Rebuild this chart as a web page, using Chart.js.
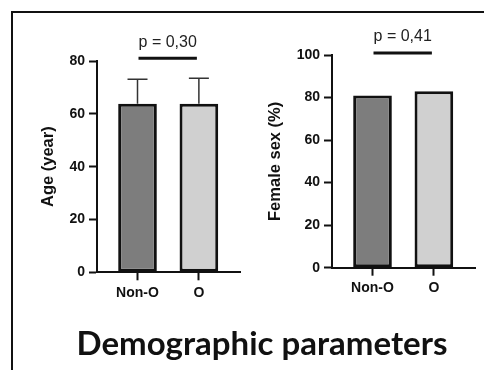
<!DOCTYPE html>
<html>
<head>
<meta charset="utf-8">
<script src="https://cdn.jsdelivr.net/npm/chart.js@4.4.1/dist/chart.umd.min.js"></script>
<style>
  html, body { margin: 0; padding: 0; background: #fff; }
  #page { position: relative; width: 484px; height: 370px; overflow: hidden; background: #fff; }
  #frame { position: absolute; left: 11px; top: 11px; width: 500px; height: 400px;
           border-left: 2px solid #111; border-top: 2px solid #111; }
  canvas { position: absolute; left: 0; top: 0; }
  #title { position: absolute; left: 0; width: 524px; top: 322px; text-align: center;
           font-family: 'Lato', sans-serif; font-weight: 700; font-size: 33px; line-height: 40px; color: #111; }
</style>
</head>
<body>
<div id="page">
  <div id="frame"></div>
  <canvas id="ageChart" width="484" height="370"></canvas>
  <canvas id="sexChart" width="484" height="370"></canvas>
  <div id="title">Demographic parameters</div>
</div>
<script>
// Groups compared in both panels
const categories = ['Non-O', 'O'];

// Age panel: mean and standard deviation (years)
const ageMean = [63.8, 63.8];
const ageSD = [9.3, 9.7];
const ageTicks = [0, 20, 40, 60, 80];
const agePValue = 'p = 0,30';

// Female sex panel: percentage of women
const femalePct = [81.0, 82.9];
const femaleTicks = [0, 20, 40, 60, 80, 100];
const femalePValue = 'p = 0,41';

const barColors = ['#7d7d7d', '#d0d0d0'];
const ink = '#111';
const tickFont = { family: "'Liberation Sans', Arial, sans-serif", size: 14, weight: 'bold' };
const titleFont = { family: "'Liberation Sans', Arial, sans-serif", size: 16.5, weight: 'bold' };

// Error bars (upward SD) and the significance bracket with its p value
const annotate = {
  id: 'annotate',
  afterDatasetsDraw(chart, args, opts) {
    const { ctx, scales: { x, y } } = chart;
    ctx.save();
    if (opts.sd) {
      ctx.strokeStyle = '#333';
      ctx.lineWidth = 1.5;
      opts.sd.forEach((sd, i) => {
        const cx = x.getPixelForValue(i);
        const y0 = y.getPixelForValue(opts.means[i]);
        const y1 = y.getPixelForValue(opts.means[i] + sd);
        ctx.beginPath();
        ctx.moveTo(cx, y0);
        ctx.lineTo(cx, y1);
        ctx.moveTo(cx - 10, y1);
        ctx.lineTo(cx + 10, y1);
        ctx.stroke();
      });
    }
    const xl = x.getPixelForValue(0) + 1;
    const xr = x.getPixelForValue(1) - 2;
    const yb = y.getPixelForValue(opts.bracketAt);
    ctx.strokeStyle = ink;
    ctx.lineWidth = 3;
    ctx.beginPath();
    ctx.moveTo(xl, yb);
    ctx.lineTo(xr, yb);
    ctx.stroke();
    ctx.fillStyle = '#222';
    ctx.font = "16px 'Liberation Sans', Arial, sans-serif";
    ctx.textAlign = 'center';
    ctx.textBaseline = 'middle';
    ctx.fillText(opts.label, (xl + xr) / 2, yb - 16);
    ctx.restore();
  }
};

function makeChart(id, values, ticks, yTitle, padding, yWidth, titlePad, annot) {
  return new Chart(document.getElementById(id), {
    type: 'bar',
    data: {
      datasets: [{
        data: categories.map((c, i) => ({ x: i, y: values[i] })),
        backgroundColor: barColors,
        borderColor: ink,
        borderWidth: 3,
        borderSkipped: false,
        barPercentage: 0.9,
        categoryPercentage: 0.7
      }]
    },
    options: {
      responsive: false,
      animation: false,
      devicePixelRatio: 1,
      layout: { padding },
      plugins: { legend: { display: false }, tooltip: { enabled: false }, annotate: annot },
      scales: {
        x: {
          type: 'linear',
          min: -0.66,
          max: 1.67,
          offset: false,
          afterBuildTicks(scale) { scale.ticks = categories.map((c, i) => ({ value: i })); },
          afterFit(scale) { scale.height = 40; },
          ticks: {
            autoSkip: false, maxRotation: 0, padding: 4, color: ink, font: tickFont,
            callback: (v) => categories[v]
          },
          grid: { offset: false, drawOnChartArea: false, drawTicks: true, tickLength: 8, tickWidth: 2, tickColor: ink },
          border: { display: true, color: ink, width: 2 }
        },
        y: {
          min: ticks[0],
          max: ticks[ticks.length - 1],
          afterBuildTicks(scale) { scale.ticks = ticks.map(v => ({ value: v })); },
          afterFit(scale) { scale.width = yWidth; },
          ticks: { padding: 4, color: ink, font: tickFont },
          grid: { drawOnChartArea: false, drawTicks: true, tickLength: 8, tickWidth: 2, tickColor: ink },
          border: { display: true, color: ink, width: 2 },
          title: { display: true, text: yTitle, color: ink, font: titleFont, padding: { top: titlePad, bottom: 0 } }
        }
      }
    },
    plugins: [annotate]
  });
}

makeChart('ageChart', ageMean, ageTicks, 'Age (year)',
  { left: 20, right: 244, top: 61, bottom: 57.7 }, 77, 18.6,
  { means: ageMean, sd: ageSD, bracketAt: 81, label: agePValue });

makeChart('sexChart', femalePct, femaleTicks, 'Female sex (%)',
  { left: 255, right: 9, top: 55, bottom: 62.3 }, 77, 10.1,
  { means: femalePct, bracketAt: 100.9, label: femalePValue });
</script>
</body>
</html>
